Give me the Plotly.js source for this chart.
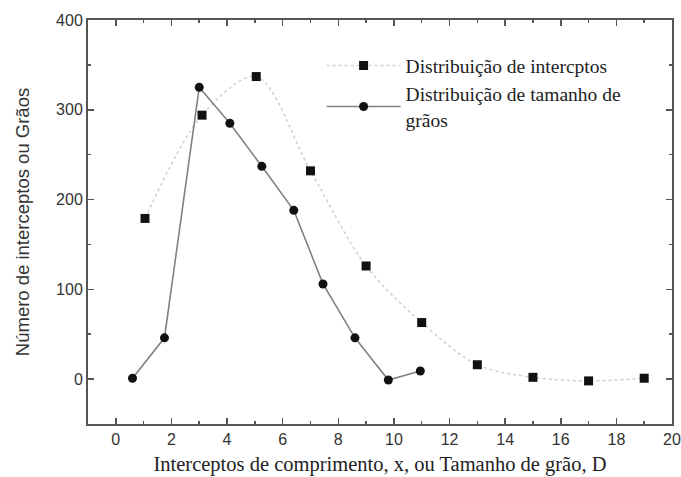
<!DOCTYPE html>
<html>
<head>
<meta charset="utf-8">
<script src="https://cdn.plot.ly/plotly-3.0.1.min.js"></script>
<style>html,body{margin:0;padding:0;background:#fff;}#chart{width:681px;height:477px;}</style>
</head>
<body>
<div id="chart"></div>
<script>
// Intercept length distribution (squares)
const interceptX = [1.05, 3.1, 5.05, 7.0, 9.0, 11.0, 13.0, 15.0, 17.0, 19.0];
const interceptY = [179, 294, 337, 232, 126, 63, 16, 2, -2, 1];
// Grain size distribution (circles)
const grainX = [0.6, 1.75, 3.0, 4.1, 5.25, 6.4, 7.45, 8.6, 9.8, 10.95];
const grainY = [1, 46, 325, 285, 237, 188, 106, 46, -1, 9];

const seriesNames = ['Distribuição de intercptos', 'Distribuição de tamanho de<br>grãos'];
const xTicks = [0, 2, 4, 6, 8, 10, 12, 14, 16, 18, 20];
const yTicks = [0, 100, 200, 300, 400];

const traces = [
  {
    x: interceptX, y: interceptY, name: seriesNames[0],
    mode: 'lines+markers', type: 'scatter',
    line: {shape: 'spline', smoothing: 0.9, dash: 'dot', color: '#cfcfcf', width: 1.5},
    marker: {symbol: 'square', size: 9, color: '#111'}
  },
  {
    x: grainX, y: grainY, name: seriesNames[1],
    mode: 'lines+markers', type: 'scatter',
    line: {color: '#808080', width: 1.6},
    marker: {symbol: 'circle', size: 9, color: '#111'}
  }
];

const axisCommon = {
  showgrid: false, zeroline: false, showline: true, linecolor: '#555', linewidth: 2,
  mirror: 'ticks', ticks: 'inside', ticklen: 6, tickcolor: '#555', tickwidth: 1.5,
  tickfont: {family: 'Arial, Liberation Sans, sans-serif', size: 16, color: '#333'}
};

const layout = {
  width: 681, height: 477,
  margin: {l: 88, r: 9, t: 20, b: 53},
  paper_bgcolor: '#fff', plot_bgcolor: '#fff',
  showlegend: true,
  legend: {
    x: 0.4, y: 0.935, xanchor: 'left', yanchor: 'top',
    bgcolor: 'rgba(0,0,0,0)', borderwidth: 0, itemwidth: 74,
    font: {family: 'Liberation Serif, Times New Roman, serif', size: 19.5, color: '#222'},
    tracegroupgap: 0
  },
  xaxis: Object.assign({}, axisCommon, {
    range: [-1, 20], tickvals: xTicks, ticktext: xTicks.map(String),
    minor: {dtick: 1, tick0: 0, ticks: 'inside', ticklen: 3, tickcolor: '#555'},
    title: {text: 'Interceptos de comprimento, x, ou Tamanho de grão, D',
      font: {family: 'Liberation Serif, Times New Roman, serif', size: 20.5, color: '#222'}, standoff: 9}
  }),
  yaxis: Object.assign({}, axisCommon, {
    range: [-50, 400], tickvals: yTicks, ticktext: yTicks.map(String),
    minor: {dtick: 50, tick0: 0, ticks: 'inside', ticklen: 3, tickcolor: '#555'},
    title: {text: 'Número de interceptos ou Grãos',
      font: {family: 'Arial, Liberation Sans, sans-serif', size: 18.5, color: '#333'}, standoff: 22}
  })
};

Plotly.newPlot('chart', traces, layout, {displayModeBar: false, staticPlot: true});
</script>
</body>
</html>
